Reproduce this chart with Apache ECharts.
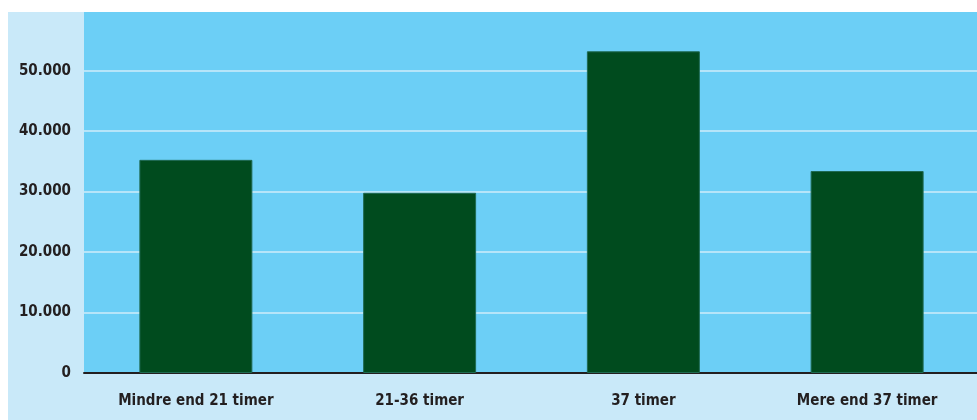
<!DOCTYPE html>
<html><head><meta charset="utf-8">
<script src="https://cdn.jsdelivr.net/npm/echarts@6/dist/echarts.min.js"></script>
<style>
html,body{margin:0;padding:0;background:#fff;width:977px;height:420px;overflow:hidden;}
#c{position:absolute;left:8px;top:12px;width:971px;height:408px;background:#c9e9f9;}
</style></head>
<body><div id="c"></div>
<script>
const categories = ['Mindre end 21 timer', '21-36 timer', '37 timer', 'Mere end 37 timer'];
const values = [35250, 29800, 53200, 33400];
const yTicks = [0, 10000, 20000, 30000, 40000, 50000];

const fmt = v => v === 0 ? '0' : String(v).replace(/\B(?=(\d{3})+(?!\d))/g, '.');
const FONT = 'DejaVu Sans Condensed';
const chart = echarts.init(document.getElementById('c'), null, {renderer: 'canvas'});
chart.setOption({
  animation: false,
  grid: {left: 76, right: 0, top: 0, bottom: 47, show: true, backgroundColor: '#6ccff6', borderWidth: 0},
  xAxis: {
    type: 'category', data: categories,
    axisLine: {show: true, lineStyle: {color: '#231f20', width: 2}},
    axisTick: {show: false},
    axisLabel: {margin: 21, color: '#231f20', fontFamily: FONT, fontWeight: 'bold', fontSize: 15}
  },
  yAxis: {
    type: 'value', min: 0, max: 59700, interval: 10000,
    axisLine: {show: false}, axisTick: {show: false},
    axisLabel: {margin: 13, color: '#231f20', fontFamily: FONT, fontWeight: 'bold', fontSize: 15,
      formatter: v => yTicks.includes(v) ? fmt(v) : ''},
    splitLine: {show: true, showMinLine: false, showMaxLine: false, lineStyle: {color: '#b6e5f9', width: 2}}
  },
  series: [{
    type: 'bar', data: values, barWidth: '50.5%',
    itemStyle: {color: '#004b1e', borderColor: '#1f6a52', borderWidth: 1}
  }]
});
</script></body></html>
